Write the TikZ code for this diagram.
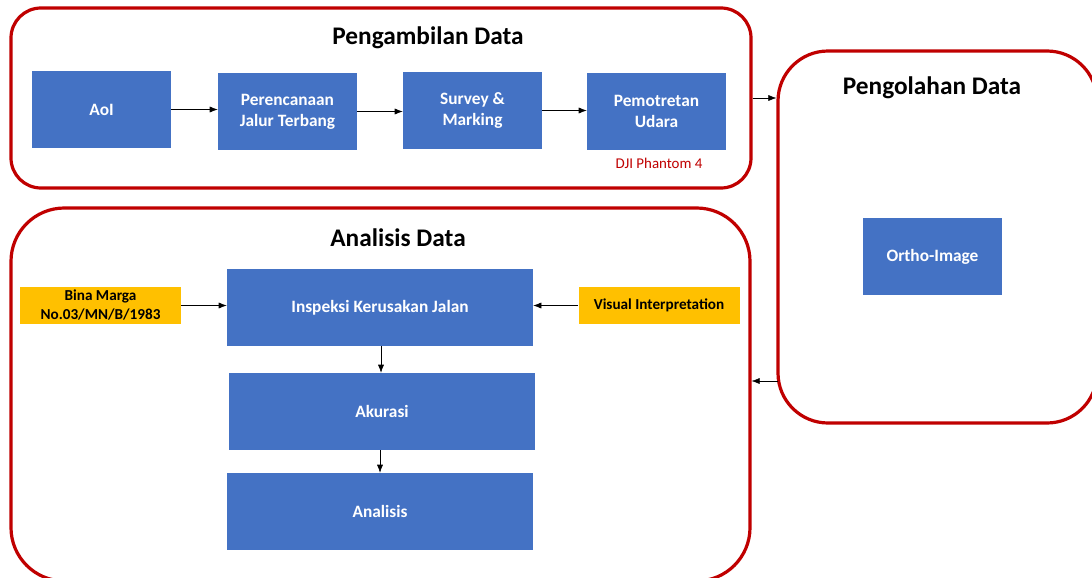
\documentclass[tikz,border=0pt]{standalone}
\usepackage{fontspec}
\setmainfont{Carlito}
\usetikzlibrary{arrows.meta,fit}
\definecolor{boxblue}{HTML}{4472C4}
\definecolor{boxyellow}{HTML}{FFC000}
\definecolor{panelred}{HTML}{C00000}
\begin{document}
\begin{tikzpicture}[x=0.75pt,y=-0.75pt,
    panel/.style={draw=panelred, line width=2.4pt, inner sep=0pt},
    title/.style={font=\fontsize{19}{22}\selectfont\bfseries},
    stepbox/.style={fill=boxblue, text=white, align=center, font=\fontsize{13}{15.75}\selectfont\bfseries,
        minimum width=104.25pt, minimum height=57.75pt, inner sep=0pt},
    widebox/.style={stepbox, minimum width=229.5pt},
    inputbox/.style={fill=boxyellow, text=black, align=center, font=\fontsize{11.4}{14.25}\selectfont\bfseries,
        minimum width=120.75pt, minimum height=27.75pt, inner sep=0pt},
    arr/.style={-{Latex[length=6pt,width=4.5pt]}, thin, black}]
    \useasboundingbox[fill=white] (0,0) rectangle (1092,578);
    \begin{scope}
    \clip (0,0) rectangle (1092,578);
    % Panels
    \node[panel, rounded corners=22.5pt, fit={(11,8) (751,188)}] (ambil) {};
    \node[panel, rounded corners=37.5pt, fit={(778,51) (1097,423)}] (olah) {};
    \node[panel, rounded corners=40pt, fit={(11,208) (750,581)}] (analisa) {};
    \end{scope}
    % Titles
    \node[title] (tAmbil) at (428,38) {Pengambilan Data};
    \node[title] (tOlah) at (932,88) {Pengolahan Data};
    \node[title] (tAnalisa) at (398,238) {Analisis Data};
    % Pengambilan Data
    \node[stepbox] (aoi) at (101.5,109.5) {AoI};
    \node[stepbox] (rencana) at (287.5,111.5) {Perencanaan\\Jalur Terbang};
    \node[stepbox] (survey) at (472.5,110.5) {Survey \&\\Marking};
    \node[stepbox] (foto) at (656.5,111.5) {Pemotretan\\Udara};
    \node[text=panelred, font=\fontsize{11.2}{13}\selectfont] (dji) at (659,163) {DJI Phantom 4};
    \draw[arr] (aoi.east) -- (aoi.east -| rencana.west);
    \draw[arr] (rencana.east) -- (rencana.east -| survey.west);
    \draw[arr] (survey.east) -- (survey.east -| foto.west);
    % Pengolahan Data
    \node[stepbox] (ortho) at (932.5,256.5) {Ortho-Image};
    \coordinate (balik) at (778,381);
    \draw[arr] (ambil.east) -- (ambil.east -| olah.west);
    \draw[arr] (balik) -- (balik -| analisa.east);
    % Analisis Data
    \node[widebox] (inspeksi) at (380,307.5) {Inspeksi Kerusakan Jalan};
    \node[widebox] (akurasi) at (382,411.5) {Akurasi};
    \node[widebox] (analisis) at (380,511.5) {Analisis};
    \node[inputbox] (bina) at (100.5,305.5) {Bina Marga\\No.03/MN/B/1983};
    \node[inputbox] (visual) at (659,305.5) {Visual Interpretation};
    \draw[arr] (bina.east) -- (bina.east -| inspeksi.west);
    \draw[arr] (visual.west) -- (visual.west -| inspeksi.east);
    \draw[arr] (inspeksi.south -| 381,0) -- (akurasi.north -| 381,0);
    \draw[arr] (akurasi.south -| 380,0) -- (analisis.north -| 380,0);
\end{tikzpicture}
\end{document}
